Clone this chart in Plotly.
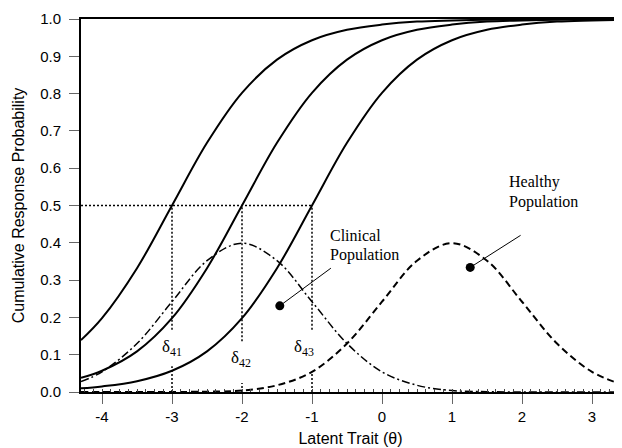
import plotly.graph_objects as go

# ---- data ----
theta = [-4.3, -4.0, -3.5, -3.0, -2.5, -2.0, -1.5, -1.0, -0.5, 0.0,
         0.5, 1.0, 1.5, 2.0, 2.5, 3.0, 3.4]
icc_1 = [0.139, 0.198, 0.332, 0.500, 0.668, 0.802, 0.891, 0.943, 0.971, 0.985,
         0.993, 0.996, 0.998, 0.999, 1.000, 1.000, 1.000]
icc_2 = [0.038, 0.057, 0.109, 0.198, 0.332, 0.500, 0.668, 0.802, 0.891, 0.943,
         0.971, 0.985, 0.993, 0.996, 0.998, 0.999, 1.000]
icc_3 = [0.010, 0.015, 0.029, 0.057, 0.109, 0.198, 0.332, 0.500, 0.668, 0.802,
         0.891, 0.943, 0.971, 0.985, 0.993, 0.996, 0.998]
clinical = [0.028, 0.054, 0.130, 0.242, 0.352, 0.399, 0.352, 0.242, 0.130, 0.054,
            0.018, 0.004, 0.001, 0.000, 0.000, 0.000, 0.000]
healthy = [0.000, 0.000, 0.000, 0.000, 0.001, 0.004, 0.018, 0.054, 0.130, 0.242,
           0.352, 0.399, 0.352, 0.242, 0.130, 0.054, 0.022]

thresholds = [-3.0, -2.0, -1.0]
threshold_labels = ["δ<sub>41</sub>", "δ<sub>42</sub>", "δ<sub>43</sub>"]
half_prob = 0.5
# dotted vertical segments (lower part below the label, upper part above it)
seg_low_top = [0.069, 0.024, 0.055]
seg_high_bottom = [0.167, 0.136, 0.167]
label_x = [-3.0, -2.01, -1.11]
label_y = [0.118, 0.088, 0.118]

x_ticks = [-4, -3, -2, -1, 0, 1, 2, 3]
y_ticks = [0.0, 0.1, 0.2, 0.3, 0.4, 0.5, 0.6, 0.7, 0.8, 0.9, 1.0]

# callouts: (dot_x, dot_y, end_x, end_y)
clin_call = (-1.46, 0.231, -0.73, 0.332)
heal_call = (1.26, 0.334, 1.98, 0.42)
clin_text = ["Clinical", "Population"]
clin_text_y = [0.419, 0.366]
heal_text = ["Healthy", "Population"]
heal_text_y = [0.563, 0.510]

DOT = "2px,2px"

fig = go.Figure()

for ys in (icc_1, icc_2, icc_3):
    fig.add_trace(go.Scatter(x=theta, y=ys, mode="lines",
                             line=dict(color="black", width=2, shape="spline"),
                             hoverinfo="skip"))

fig.add_trace(go.Scatter(x=theta, y=clinical, mode="lines",
                         line=dict(color="black", width=1.5, dash="8px,3px,2px,3px", shape="spline"),
                         hoverinfo="skip"))
fig.add_trace(go.Scatter(x=theta, y=healthy, mode="lines",
                         line=dict(color="black", width=2, dash="7px,4px", shape="spline"),
                         hoverinfo="skip"))

# horizontal dotted line at 0.5
fig.add_trace(go.Scatter(x=[theta[0], thresholds[-1]], y=[half_prob, half_prob], mode="lines",
                         line=dict(color="black", width=1.5, dash=DOT), hoverinfo="skip"))
# vertical dotted segments
for t, lo, hi in zip(thresholds, seg_low_top, seg_high_bottom):
    fig.add_trace(go.Scatter(x=[t, t], y=[0, lo], mode="lines",
                             line=dict(color="black", width=1.5, dash=DOT), hoverinfo="skip"))
    fig.add_trace(go.Scatter(x=[t, t], y=[hi, half_prob], mode="lines",
                             line=dict(color="black", width=1.5, dash=DOT), hoverinfo="skip"))

# callout lines and dots
for c in (clin_call, heal_call):
    fig.add_trace(go.Scatter(x=[c[0], c[2]], y=[c[1], c[3]], mode="lines",
                             line=dict(color="black", width=1), hoverinfo="skip"))
    fig.add_trace(go.Scatter(x=[c[0]], y=[c[1]], mode="markers",
                             marker=dict(color="black", size=9), hoverinfo="skip"))

serif = dict(family="Liberation Serif, Times New Roman, serif", size=16, color="black")
serif_d = dict(family="Liberation Serif, Times New Roman, serif", size=17, color="black")
for lx, ly, txt in zip(label_x, label_y, threshold_labels):
    fig.add_annotation(x=lx, y=ly, text=txt, showarrow=False, font=serif_d,
                       xanchor="center", yanchor="middle")

for txt, ty in zip(clin_text, clin_text_y):
    fig.add_annotation(x=-0.77, y=ty, text=txt, showarrow=False,
                       font=serif, xanchor="left", yanchor="middle")
for txt, ty in zip(heal_text, heal_text_y):
    fig.add_annotation(x=1.78, y=ty, text=txt, showarrow=False,
                       font=serif, xanchor="left", yanchor="middle")

sans = dict(family="Liberation Sans, Arial, sans-serif", size=15, color="black")
title_font = dict(family="Liberation Sans, Arial, sans-serif", size=16, color="black")
fig.update_layout(
    width=614, height=440,
    margin=dict(l=73, r=2, t=11, b=56),
    paper_bgcolor="white", plot_bgcolor="white",
    showlegend=False,
    font=sans,
    xaxis=dict(range=[-4.3, 3.4], tickvals=x_ticks, ticktext=[str(v) for v in x_ticks],
               ticks="outside", ticklen=10, tickwidth=1, tickcolor="#666",
               showline=True, linecolor="black", linewidth=2, mirror=True,
               showgrid=False, zeroline=False,
               tickfont=sans,
               minor=dict(ticks="inside", ticklen=3, dtick=0.125, tickcolor="#444", showgrid=False),
               title=dict(text="Latent Trait (θ)", font=title_font, standoff=9)),
    yaxis=dict(range=[0, 1], tickvals=y_ticks, ticktext=[f"{v:.1f}" for v in y_ticks],
               ticks="outside", ticklen=10, tickwidth=1, tickcolor="#666",
               showline=True, linecolor="black", linewidth=2,
               showgrid=False, zeroline=False,
               tickfont=sans, ticklabelstandoff=5,
               title=dict(text="Cumulative Response Probability", font=title_font, standoff=12)),
)

fig.write_html("out.html")
